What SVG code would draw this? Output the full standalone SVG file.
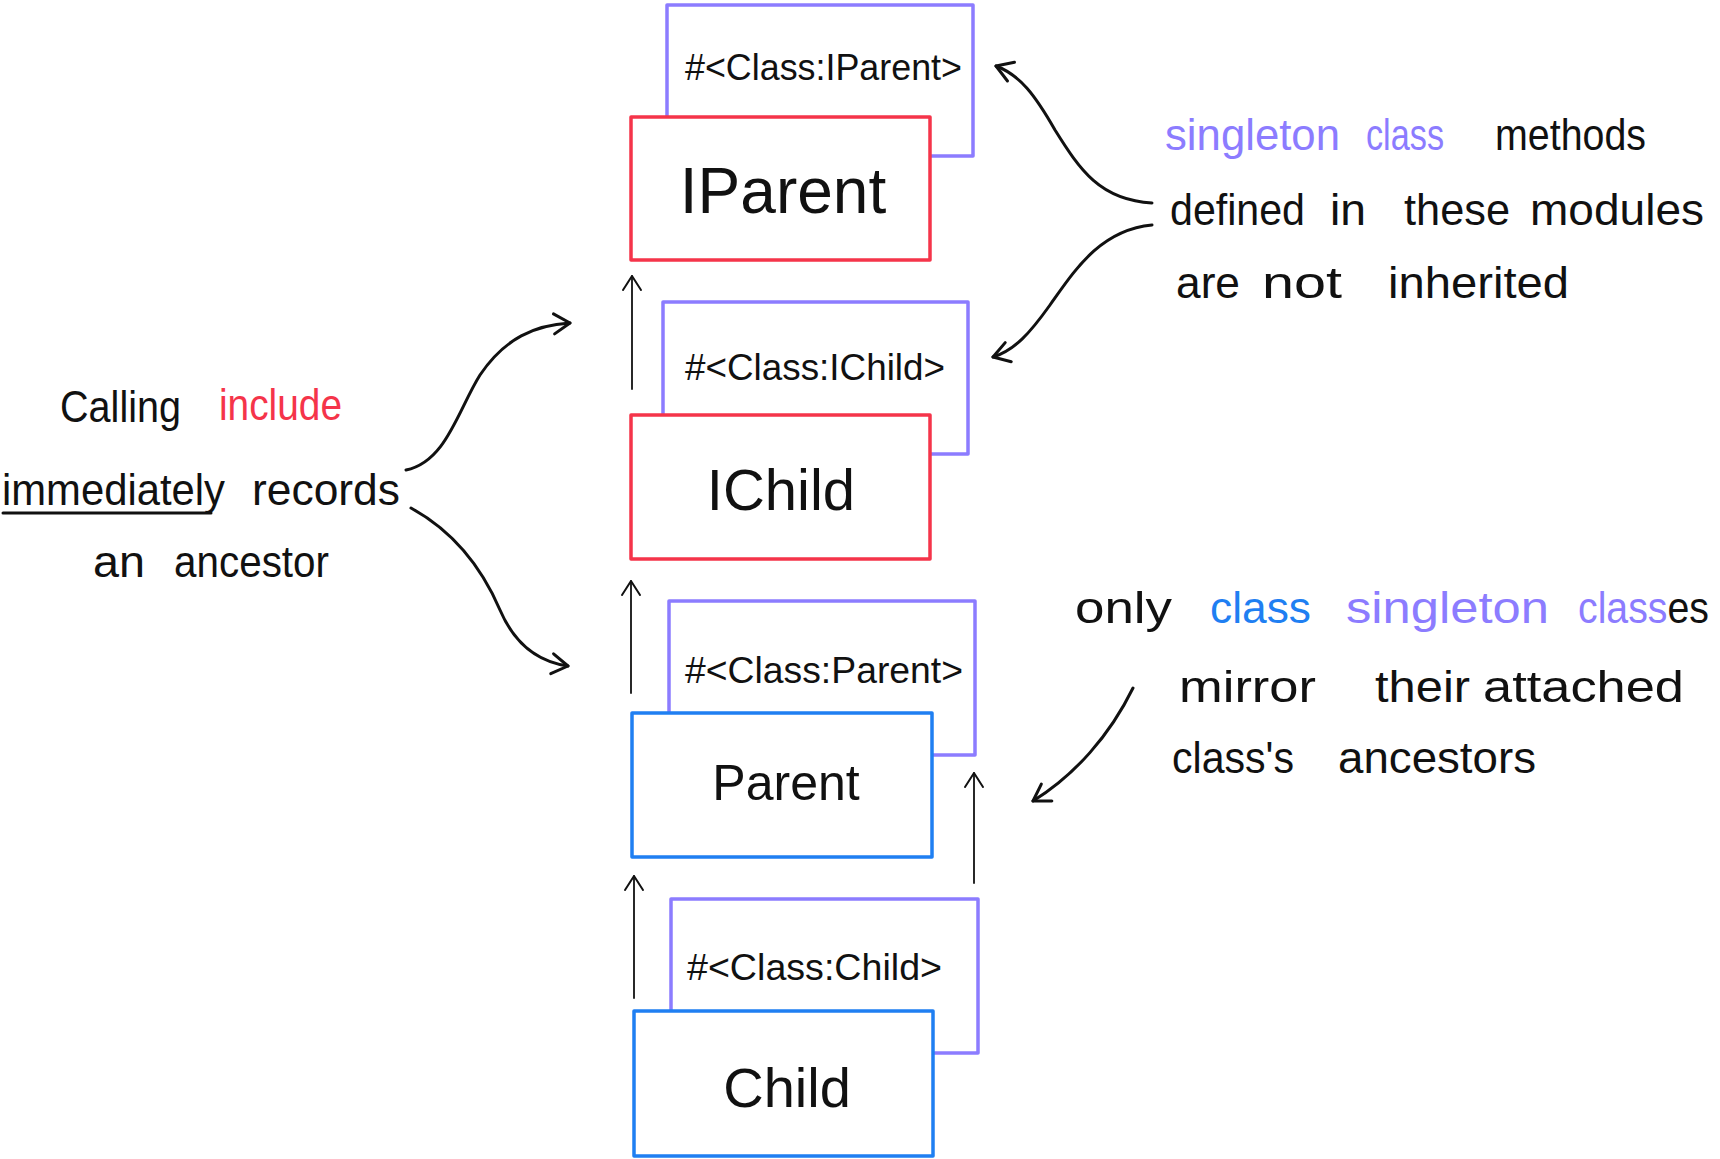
<svg xmlns="http://www.w3.org/2000/svg" width="1720" height="1159" viewBox="0 0 1720 1159">
<defs>
<style>
text{font-family:"Liberation Sans","DejaVu Sans",sans-serif;fill:#111}
.single{fill:none;stroke:#8c7cff;stroke-width:3.5;stroke-linejoin:round}
.mod{fill:#fff;stroke:#f5344a;stroke-width:3.5;stroke-linejoin:round}
.cls{fill:#fff;stroke:#1f7ff2;stroke-width:3.5;stroke-linejoin:round}
.slabel{font-size:37px}
.name{text-anchor:middle}
.note{font-size:44px}
.red{fill:#f5344a}
.purple{fill:#8c7cff}
.blue{fill:#1f7ff2}
.conn{fill:none;stroke:#111;stroke-width:3;stroke-linecap:round}
.thin{fill:none;stroke:#111;stroke-width:1.8;stroke-linecap:round}
</style>
<marker id="ah" markerUnits="userSpaceOnUse" viewBox="-20 -12 24 24" markerWidth="24" markerHeight="24" refX="0" refY="0" orient="auto">
<path d="M-16,-10 L0,0 L-16,10" fill="none" stroke="#111" stroke-width="3" stroke-linecap="round" stroke-linejoin="round"/>
</marker>
<marker id="ahs" markerUnits="userSpaceOnUse" viewBox="-20 -12 24 24" markerWidth="24" markerHeight="24" refX="0" refY="0" orient="auto">
<path d="M-14,-9 L0,0 L-14,9" fill="none" stroke="#111" stroke-width="2" stroke-linecap="round" stroke-linejoin="round"/>
</marker>
</defs>
<rect width="1720" height="1159" fill="#fff"/>

<g id="connectors">
<path class="thin" d="M632,389 L632,276" marker-end="url(#ahs)"/>
<path class="thin" d="M631,693 L631,581" marker-end="url(#ahs)"/>
<path class="thin" d="M634,998 L634,876" marker-end="url(#ahs)"/>
<path class="thin" d="M974,883 L974,773" marker-end="url(#ahs)"/>
<path class="conn" d="M406,470 C446,462 458,410 480,375 C505,338 535,325 570,323" marker-end="url(#ah)"/>
<path class="conn" d="M411,508 C460,535 485,575 500,610 C515,645 540,662 568,666" marker-end="url(#ah)"/>
<path class="conn" d="M1152,203 C1100,200 1080,170 1055,130 C1035,95 1020,75 996,66" marker-end="url(#ah)"/>
<path class="conn" d="M1152,225 C1100,230 1075,270 1050,305 C1030,333 1015,350 993,357" marker-end="url(#ah)"/>
<path class="conn" d="M1133,688 C1110,735 1075,775 1033,801" marker-end="url(#ah)"/>
</g>

<g id="singleton-iparent">
<rect class="single" x="667" y="5" width="306" height="151"/>
<text class="slabel" x="685" y="80" textLength="277" lengthAdjust="spacingAndGlyphs">#&lt;Class:IParent&gt;</text>
</g>
<g id="iparent">
<rect class="mod" x="631" y="117" width="299" height="143"/>
<text class="name" x="783" y="213" font-size="64">IParent</text>
</g>

<g id="singleton-ichild">
<rect class="single" x="663" y="302" width="305" height="152"/>
<text class="slabel" x="685" y="380" textLength="260" lengthAdjust="spacingAndGlyphs">#&lt;Class:IChild&gt;</text>
</g>
<g id="ichild">
<rect class="mod" x="631" y="415" width="299" height="144"/>
<text class="name" x="781" y="510" font-size="58">IChild</text>
</g>

<g id="singleton-parent">
<rect class="single" x="669" y="601" width="306" height="154"/>
<text class="slabel" x="685" y="683" textLength="278" lengthAdjust="spacingAndGlyphs">#&lt;Class:Parent&gt;</text>
</g>
<g id="parent">
<rect class="cls" x="632" y="713" width="300" height="144"/>
<text class="name" x="786" y="800" font-size="50">Parent</text>
</g>

<g id="singleton-child">
<rect class="single" x="671" y="899" width="307" height="154"/>
<text class="slabel" x="687" y="980" textLength="255" lengthAdjust="spacingAndGlyphs">#&lt;Class:Child&gt;</text>
</g>
<g id="child">
<rect class="cls" x="634" y="1011" width="299" height="145"/>
<text class="name" x="787" y="1107" font-size="56">Child</text>
</g>

<g id="note-include">
<text class="note" x="60" y="422" textLength="121" lengthAdjust="spacingAndGlyphs">Calling</text>
<text class="note red" x="219" y="420" textLength="123" lengthAdjust="spacingAndGlyphs">include</text>
<text class="note" x="2" y="505" textLength="223" lengthAdjust="spacingAndGlyphs">immediately</text>
<line x1="3" y1="513" x2="211" y2="513" stroke="#111" stroke-width="3" stroke-linecap="round"/>
<text class="note" x="252" y="505" textLength="148" lengthAdjust="spacingAndGlyphs">records</text>
<text class="note" x="93" y="577" textLength="52" lengthAdjust="spacingAndGlyphs">an</text>
<text class="note" x="174" y="577" textLength="155" lengthAdjust="spacingAndGlyphs">ancestor</text>
</g>

<g id="note-singleton">
<text class="note purple" x="1165" y="150" textLength="175" lengthAdjust="spacingAndGlyphs">singleton</text>
<text class="note purple" x="1366" y="150" textLength="78" lengthAdjust="spacingAndGlyphs">class</text>
<text class="note" x="1495" y="150" textLength="151" lengthAdjust="spacingAndGlyphs">methods</text>
<text class="note" x="1170" y="225" textLength="135" lengthAdjust="spacingAndGlyphs">defined</text>
<text class="note" x="1330" y="225" textLength="36" lengthAdjust="spacingAndGlyphs">in</text>
<text class="note" x="1404" y="225" textLength="106" lengthAdjust="spacingAndGlyphs">these</text>
<text class="note" x="1530" y="225" textLength="174" lengthAdjust="spacingAndGlyphs">modules</text>
<text class="note" x="1176" y="298" textLength="64" lengthAdjust="spacingAndGlyphs">are</text>
<text class="note" x="1262" y="298" textLength="80" lengthAdjust="spacingAndGlyphs">not</text>
<text class="note" x="1388" y="298" textLength="181" lengthAdjust="spacingAndGlyphs">inherited</text>
</g>

<g id="note-class">
<text class="note" x="1075" y="623" textLength="97" lengthAdjust="spacingAndGlyphs">only</text>
<text class="note blue" x="1210" y="623" textLength="101" lengthAdjust="spacingAndGlyphs">class</text>
<text class="note purple" x="1346" y="623" textLength="203" lengthAdjust="spacingAndGlyphs">singleton</text>
<text class="note" x="1578" y="623" textLength="131" lengthAdjust="spacingAndGlyphs"><tspan class="purple">class</tspan><tspan>es</tspan></text>
<text class="note" x="1179" y="702" textLength="137" lengthAdjust="spacingAndGlyphs">mirror</text>
<text class="note" x="1375" y="702" textLength="95" lengthAdjust="spacingAndGlyphs">their</text>
<text class="note" x="1483" y="702" textLength="201" lengthAdjust="spacingAndGlyphs">attached</text>
<text class="note" x="1172" y="773" textLength="122" lengthAdjust="spacingAndGlyphs">class's</text>
<text class="note" x="1338" y="773" textLength="198" lengthAdjust="spacingAndGlyphs">ancestors</text>
</g>
</svg>
